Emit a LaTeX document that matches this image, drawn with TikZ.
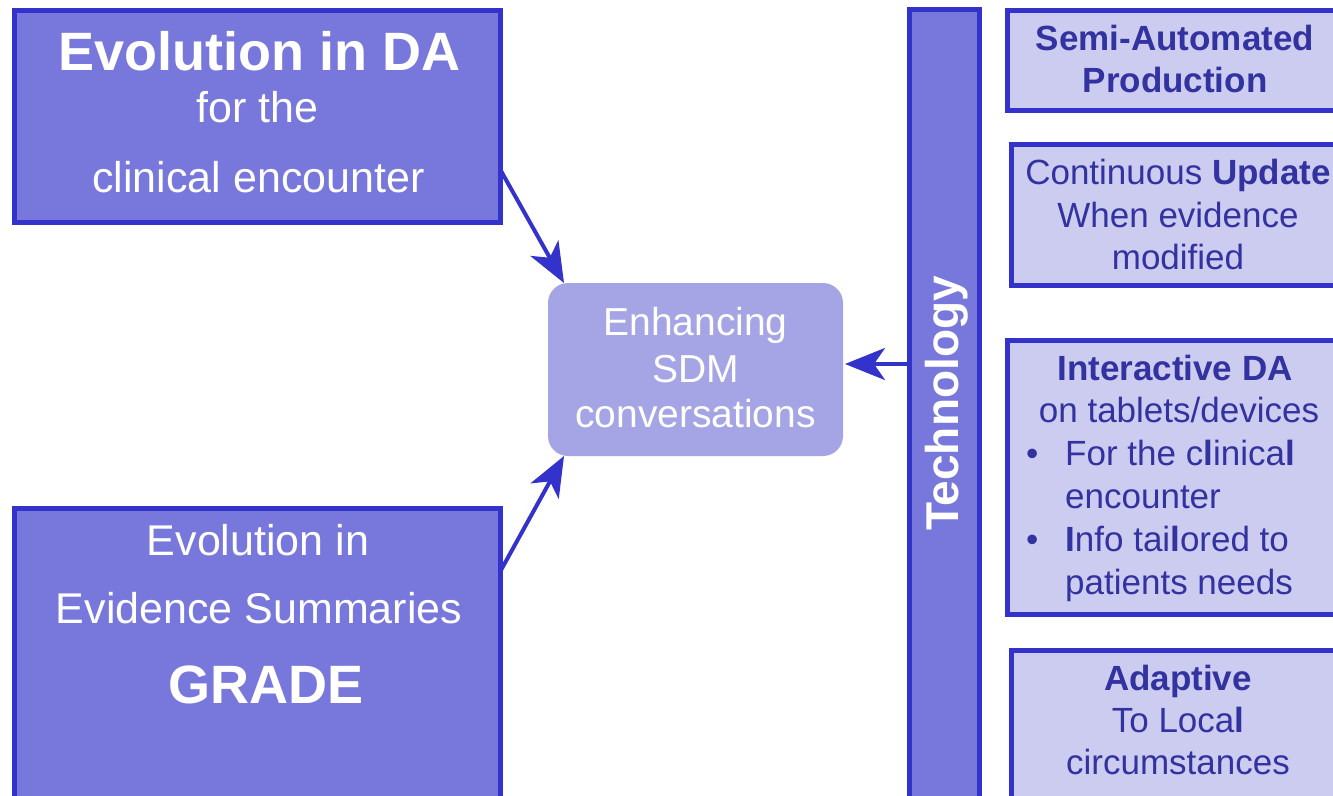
\documentclass[tikz,border=0pt]{standalone}
\usepackage{fontspec}
\setmainfont{Liberation Sans}
\usetikzlibrary{arrows.meta}

\definecolor{edgeblue}{RGB}{51,51,204}
\definecolor{darkfill}{RGB}{120,120,220}
\definecolor{midfill}{RGB}{165,165,230}
\definecolor{lightfill}{RGB}{204,204,240}
\definecolor{navytext}{RGB}{50,50,160}

\newcommand{\fsz}[1]{\fontsize{#1}{#1}\selectfont}

\tikzset{
  darkbox/.style={draw=edgeblue, fill=darkfill, line width=5pt, inner sep=0pt, outer sep=0pt},
  lightbox/.style={draw=edgeblue, fill=lightfill, line width=5pt, inner sep=0pt, outer sep=0pt},
  hubbox/.style={fill=midfill, rounded corners=20pt, inner sep=0pt, outer sep=0pt},
  wtext/.style={text=white, anchor=base, inner sep=0pt},
  ntext/.style={text=navytext, anchor=base, inner sep=0pt, font=\fsz{35}},
  itemtext/.style={text=navytext, anchor=base west, inner sep=0pt, font=\fsz{35}},
  arr/.style={draw=edgeblue, line width=4pt,
    -{Stealth[length=40pt, width=32pt, inset=11pt]}},
}

\begin{document}
\begin{tikzpicture}[x=1pt, y=-1pt]
  \useasboundingbox (0,0) rectangle (1333,795);
  \clip (0,0) rectangle (1333,795);
  \fill[white] (0,0) rectangle (1333,795);

  % left column: the two evolution boxes
  \node[darkbox, minimum width=486pt, minimum height=212pt] (A) at (257.5,116.5) {};
  \node[wtext, font=\bfseries\fsz{54}] (a1) at (259.5,70) {Evolution in DA};
  \node[wtext, font=\fsz{43}] (a2) at (257.5,122) {for the};
  \node[wtext, font=\fsz{43}] (a3) at (258.5,192) {clinical encounter};

  \node[darkbox, minimum width=486pt, minimum height=321pt] (B) at (257.5,669) {};
  \node[wtext, font=\fsz{43}] (b1) at (258,555) {Evolution in};
  \node[wtext, font=\fsz{43}] (b2) at (259,623) {Evidence Summaries};
  \node[wtext, font=\bfseries\fsz{54}] (b3) at (266,703) {GRADE};

  % central goal
  \node[hubbox, minimum width=295pt, minimum height=173pt] (C) at (695.5,369.5) {};
  \node[wtext, font=\fsz{39}] (c1) at (695.5,335) {Enhancing};
  \node[wtext, font=\fsz{39}] (c2) at (695.5,382) {SDM};
  \node[wtext, font=\fsz{39}] (c3) at (695.5,427) {conversations};

  % technology bar
  \node[darkbox, minimum width=70pt, minimum height=820pt] (T) at (944.5,419.75) {};
  \node[wtext, font=\bfseries\fsz{46}, rotate=90] (t1) at (958,403.5) {Technology};

  % technology features
  \node[lightbox, minimum width=340pt, minimum height=100pt] (R1) at (1177.5,60.5) {};
  \node[ntext, font=\bfseries\fsz{35}] (r1a) at (1175,50) {Semi-Automated};
  \node[ntext, font=\bfseries\fsz{35}] (r1b) at (1175,92) {Production};

  \node[lightbox, minimum width=336pt, minimum height=141pt] (R2) at (1179.5,215) {};
  \node[ntext] (r2a) at (1178,184) {Continuous \textbf{Update}};
  \node[ntext] (r2b) at (1178,227) {When evidence};
  \node[ntext] (r2c) at (1178,269) {modified};

  \node[lightbox, minimum width=340pt, minimum height=274pt] (R3) at (1177.5,477.5) {};
  \node[ntext, font=\bfseries\fsz{35}] (r3a) at (1175,380) {Interactive DA};
  \node[ntext] (r3b) at (1179,422) {on tablets/devices};
  \node[itemtext] (r3d1) at (1026,465) {•};
  \node[itemtext] (r3c) at (1065,465) {For the c\textbf{l}inica\textbf{l}};
  \node[itemtext] (r3d) at (1065,508) {encounter};
  \node[itemtext] (r3d2) at (1026,551) {•};
  \node[itemtext] (r3e) at (1065,551) {\textbf{I}nfo tai\textbf{l}ored to};
  \node[itemtext] (r3f) at (1065,594) {patients needs};

  \node[lightbox, minimum width=336pt, minimum height=179.5pt] (R4) at (1179.5,740.25) {};
  \node[ntext, font=\bfseries\fsz{35}] (r4a) at (1178,690) {Adaptive};
  \node[ntext] (r4b) at (1178,732) {To Loca\textbf{l}};
  \node[ntext] (r4c) at (1178,774) {circumstances};

  % connectors into the central goal
  \draw[arr] ([yshift=-53.5pt]A.east) -- ([xshift=16pt]C.north west);
  \draw[arr] ([yshift=98pt]B.east) -- ([xshift=16pt]C.south west);
  \coordinate (cin) at ([yshift=5.5pt]C.east);
  \draw[arr] (cin -| T.west) -- ([xshift=2pt]cin);
\end{tikzpicture}
\end{document}
